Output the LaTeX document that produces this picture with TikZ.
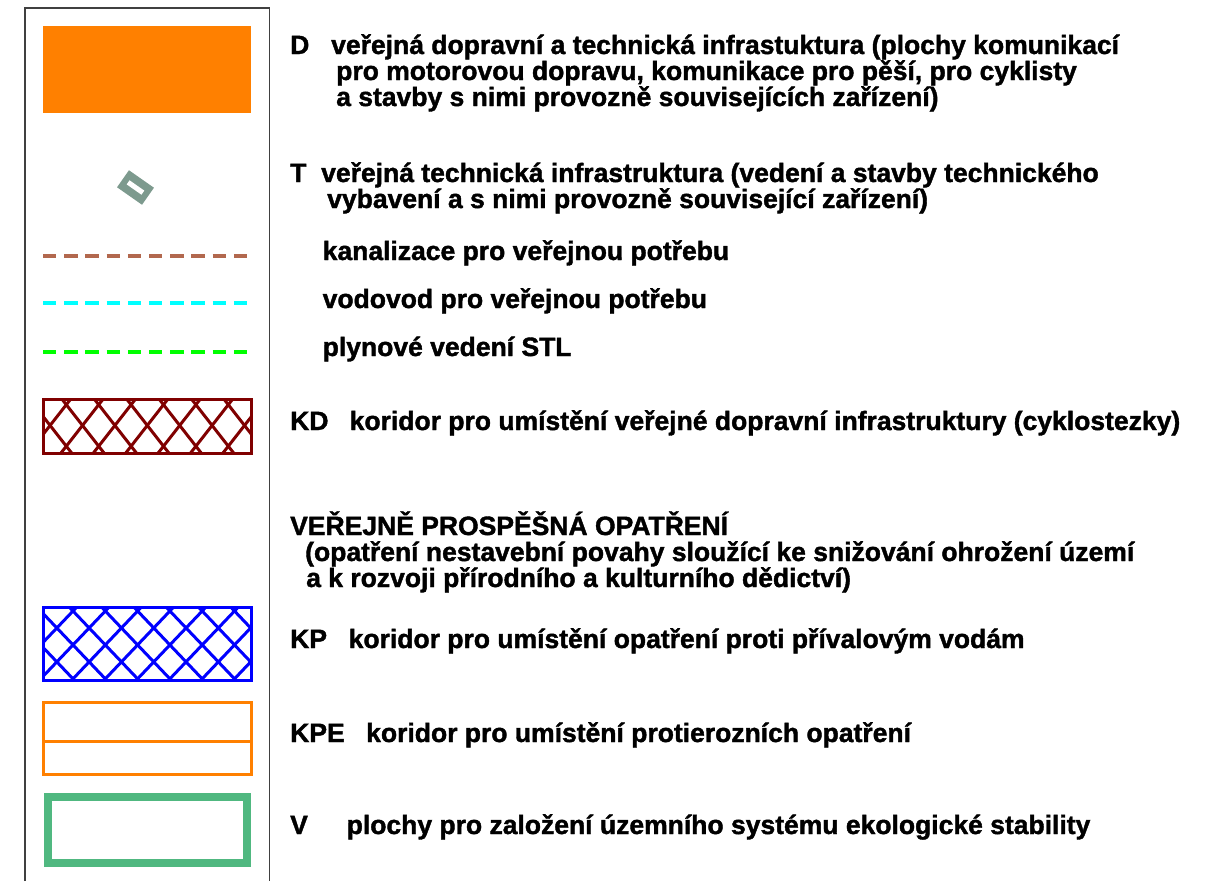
\documentclass[tikz,border=0pt]{standalone}
\usepackage{fontspec}
\setmainfont{Liberation Sans}[BoldFeatures={FakeBold=1.5}]
\usetikzlibrary{positioning}
\definecolor{plochaD}{RGB}{255,128,0}
\definecolor{symbolT}{RGB}{125,154,142}
\definecolor{kanal}{RGB}{178,104,78}
\definecolor{vodovod}{RGB}{0,255,255}
\definecolor{plyn}{RGB}{0,255,0}
\definecolor{koridorKD}{RGB}{128,0,0}
\definecolor{koridorKP}{RGB}{0,0,255}
\definecolor{koridorKPE}{RGB}{255,128,0}
\definecolor{uses}{RGB}{80,184,128}
\def\boxKD{(43,399.5) rectangle (251.5,453)}
\def\boxKP{(43,607.5) rectangle (251.5,680.5)}
\tikzset{legtext/.style={anchor=base west, inner sep=0pt, font=\bfseries\fontsize{26.5}{26}\selectfont},
    sit/.style={line width=3.5pt, dash pattern=on 13.3pt off 7.9pt},
    hatch/.style={line width=3pt},
    frame/.style={draw=black!75, line width=1.5pt}}

\begin{document}
\begin{tikzpicture}[x=1pt, y=-1pt]
    \useasboundingbox (0,0) rectangle (1212,881);
    \draw[frame] (25,881) -- (25,8) -- (269.5,8) -- (269.5,881);
    % D
    \fill[plochaD] (42.7,26) rectangle (251,113.3);
    \node[legtext] (Dlbl) at (290,54) {D};
    \node[legtext] (Dtxt1) at (331,54) {veřejná dopravní a technická infrastuktura (plochy komunikací};
    \node[legtext] (Dtxt2) at (336,80) {pro motorovou dopravu, komunikace pro pěší, pro cyklisty};
    \node[legtext] (Dtxt3) at (336,106) {a stavby s nimi provozně souvisejících zařízení)};
    % T
    \node[fill=symbolT, minimum width=30.5pt, minimum height=20.8pt, inner sep=0pt, rotate=-35] (Tsym) at (135.5,187.5) {};
    \node[fill=white, minimum width=18pt, minimum height=5pt, inner sep=0pt, rotate=-35] (Tslot) at (Tsym.center) {};
    \node[legtext] (Tlbl) at (290,182) {T};
    \node[legtext] (Ttxt1) at (321,182) {veřejná technická infrastruktura (vedení a stavby technického};
    \node[legtext] (Ttxt2) at (327,208) {vybavení a s nimi provozně související zařízení)};
    % site
    \draw[sit, kanal] (43,256) -- (247.2,256);
    \draw[sit, vodovod] (43,303) -- (247.2,303);
    \draw[sit, plyn] (43,352) -- (247.2,352);
    \node[legtext] (kanaltxt) at (322.5,260) {kanalizace pro veřejnou potřebu};
    \node[legtext] (vodatxt) at (322.5,308) {vodovod pro veřejnou potřebu};
    \node[legtext] (plyntxt) at (322.5,356) {plynové vedení STL};
    % KD
    \begin{scope}
        \clip \boxKD;
        \foreach \k in {-3,...,9}{
            \draw[hatch, koridorKD] ({66.3+32.4*\k-60},{404.7-1.28*60}) -- ++(120,{1.28*120});
            \draw[hatch, koridorKD] ({66.3+32.4*\k-60},{404.7+1.28*60}) -- ++(120,{-1.28*120});
        }
    \end{scope}
    \draw[hatch, koridorKD] \boxKD;
    \node[legtext] (KDlbl) at (290,430) {KD};
    \node[legtext] (KDtxt) at (349.5,430) {koridor pro umístění veřejné dopravní infrastruktury (cyklostezky)};
    % VPO
    \node[legtext] (VPOtxt1) at (290,535) {VEŘEJNĚ PROSPĚŠNÁ OPATŘENÍ};
    \node[legtext] (VPOtxt2) at (305,561) {(opatření nestavební povahy sloužící ke snižování ohrožení území};
    \node[legtext] (VPOtxt3) at (306,587) {a k rozvoji přírodního a kulturního dědictví)};
    % KP
    \begin{scope}
        \clip \boxKP;
        \foreach \k in {-3,...,9}{
            \draw[hatch, koridorKP] ({73+32.3*\k-80},{611-1.05*80}) -- ++(160,{1.05*160});
            \draw[hatch, koridorKP] ({73+32.3*\k-80},{611+1.05*80}) -- ++(160,{-1.05*160});
        }
    \end{scope}
    \draw[hatch, koridorKP] \boxKP;
    \node[legtext] (KPlbl) at (290,648) {KP};
    \node[legtext] (KPtxt) at (348.5,648) {koridor pro umístění opatření proti přívalovým vodám};
    % KPE
    \draw[hatch, koridorKPE] (43,702.5) rectangle (251,774) (43,741) -- (251,741);
    \node[legtext] (KPElbl) at (290,742) {KPE};
    \node[legtext] (KPEtxt) at (366,742) {koridor pro umístění protierozních opatření};
    % V
    \draw[uses, line width=8pt] (47.5,797) rectangle (247.2,862.5);
    \node[legtext] (Vlbl) at (290,834) {V};
    \node[legtext] (Vtxt) at (346.5,834) {plochy pro založení územního systému ekologické stability};
    %\node[legtext] at (290,870) {};
\end{tikzpicture}
\end{document}
